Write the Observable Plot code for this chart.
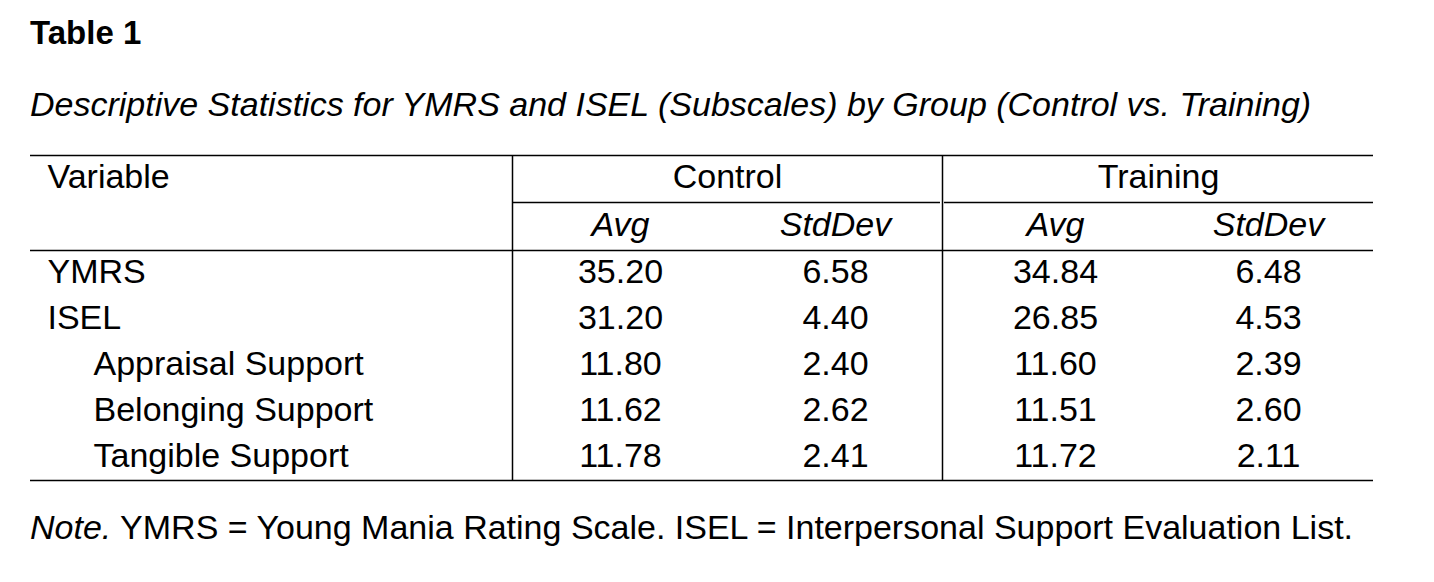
<!DOCTYPE html>
<html>
<head>
<meta charset="utf-8">
<script src="https://cdn.jsdelivr.net/npm/d3@7"></script>
<script src="https://cdn.jsdelivr.net/npm/@observablehq/plot@0.6"></script>
<style>
  body { margin: 0; background: #fff; font-family: "Liberation Sans", Arial, sans-serif; color: #000; }
  .t { position: absolute; left: 30px; font-size: 34px; line-height: 40px; white-space: nowrap; }
  #chart { position: absolute; left: 0; top: 150px; }
</style>
</head>
<body>
<div class="t" style="top:13px;font-weight:bold;font-size:33px;">Table 1</div>
<div class="t" style="top:84px;font-style:italic;">Descriptive Statistics for YMRS and ISEL (Subscales) by Group (Control vs. Training)</div>
<div class="t" style="top:507px;"><i>Note.</i> YMRS = Young Mania Rating Scale. ISEL = Interpersonal Support Evaluation List.</div>
<div id="chart"></div>
<script>
// table contents
const variables = ["YMRS", "ISEL", "Appraisal Support", "Belonging Support", "Tangible Support"];
const subscale = [false, false, true, true, true];
const groups = ["Control", "Training"];
const stats = ["Avg", "StdDev"];
const controlAvg = ["35.20", "31.20", "11.80", "11.62", "11.78"];
const controlSd = ["6.58", "4.40", "2.40", "2.62", "2.41"];
const trainingAvg = ["34.84", "26.85", "11.60", "11.51", "11.72"];
const trainingSd = ["6.48", "4.53", "2.39", "2.60", "2.11"];

// layout (svg coordinates)
const colX = [620, 835, 1055, 1268];
const groupX = [727, 1158];
const rowY = variables.map((d, i) => 122 + i * 46);
const fs = 34;

const cells = [];
const cols = [controlAvg, controlSd, trainingAvg, trainingSd];
variables.forEach((v, i) => {
  cells.push({x: subscale[i] ? 93 : 47, y: rowY[i], text: v, anchor: "start"});
  cols.forEach((c, j) => cells.push({x: colX[j], y: rowY[i], text: c[i], anchor: "middle"}));
});
const header = [{x: 47, y: 27, text: "Variable", anchor: "start"}]
  .concat(groups.map((g, i) => ({x: groupX[i], y: 27, text: g, anchor: "middle"})));
const sub = colX.map((x, i) => ({x, y: 75, text: stats[i % 2]}));

const hLines = [
  {x1: 30, x2: 1373, y: 5},
  {x1: 512, x2: 940, y: 52},
  {x1: 944, x2: 1373, y: 52},
  {x1: 30, x2: 1373, y: 100},
  {x1: 30, x2: 1373, y: 330}
];
const vLines = [{x: 512, y1: 5, y2: 330}, {x: 942, y1: 5, y2: 330}];

const chart = Plot.plot({
  width: 1434,
  height: 340,
  margin: 0,
  x: {type: "identity", axis: null},
  y: {type: "identity", axis: null},
  style: {fontFamily: "Liberation Sans, Arial, sans-serif", background: "transparent"},
  marks: [
    Plot.ruleY(hLines, {x1: "x1", x2: "x2", y: "y", stroke: "black", strokeWidth: 1.5}),
    Plot.ruleX(vLines, {x: "x", y1: "y1", y2: "y2", stroke: "black", strokeWidth: 1.5}),
    Plot.text(cells.filter(d => d.anchor === "start"), {x: "x", y: "y", text: "text", textAnchor: "start", fontSize: fs, fill: "black"}),
    Plot.text(cells.filter(d => d.anchor === "middle"), {x: "x", y: "y", text: "text", fontSize: fs, fill: "black"}),
    Plot.text(header.slice(0, 1), {x: "x", y: "y", text: "text", textAnchor: "start", fontSize: fs, fill: "black"}),
    Plot.text(header.slice(1), {x: "x", y: "y", text: "text", fontSize: fs, fill: "black"}),
    Plot.text(sub, {x: "x", y: "y", text: "text", fontSize: fs, fontStyle: "italic", fill: "black"})
  ]
});
document.getElementById("chart").append(chart);
</script>
</body>
</html>
